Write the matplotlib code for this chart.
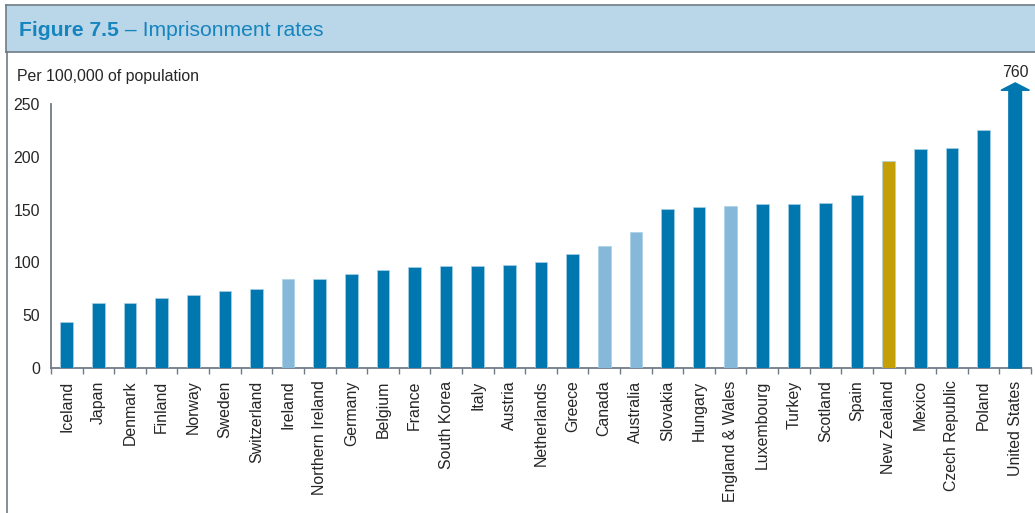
import matplotlib.pyplot as plt
from matplotlib.patches import Rectangle
from matplotlib.lines import Line2D

# data
countries = ['Iceland', 'Japan', 'Denmark', 'Finland', 'Norway', 'Sweden',
             'Switzerland', 'Ireland', 'Northern Ireland', 'Germany', 'Belgium',
             'France', 'South Korea', 'Italy', 'Austria', 'Netherlands', 'Greece',
             'Canada', 'Australia', 'Slovakia', 'Hungary', 'England & Wales',
             'Luxembourg', 'Turkey', 'Scotland', 'Spain', 'New Zealand', 'Mexico',
             'Czech Republic', 'Poland', 'United States']
rates = [44, 62, 62, 66, 69, 73, 75, 84, 84, 89, 93, 96, 97, 97, 98, 100, 108,
         116, 129, 151, 152, 153, 155, 155, 156, 164, 196, 207, 208, 225, 760]
# which group each bar belongs to
groups = ['oecd'] * 7 + ['anglo', 'oecd'] + ['oecd'] * 8 + ['anglo', 'anglo'] + \
         ['oecd', 'oecd', 'anglo'] + ['oecd'] * 4 + ['nz'] + ['oecd'] * 4

colours = {'oecd': '#0077ae', 'anglo': '#86b8d9', 'nz': '#c49f05'}
text_col = '#262626'
axis_col = '#6f7c88'
cap = 263  # values above this are drawn as an arrow

plt.rcParams['font.family'] = ['Liberation Sans', 'DejaVu Sans']

fig = plt.figure(figsize=(10.35, 5.13), dpi=100)
W, H = 1035, 513

# header band
fig.patches.append(Rectangle((6 / W, 1 - 52 / H), 1, 47 / H, transform=fig.transFigure,
                             facecolor='#bad7ea', edgecolor='none', zorder=0))
fig.add_artist(Line2D([6 / W, 1], [1 - 5 / H] * 2, color=axis_col, lw=1.2))
fig.add_artist(Line2D([6 / W, 1], [1 - 52 / H] * 2, color=axis_col, lw=1.2))
fig.add_artist(Line2D([7 / W] * 2, [1 - 52 / H, 0], color=axis_col, lw=1.2))
fig.add_artist(Line2D([6 / W] * 2, [1 - 52 / H, 1 - 5 / H], color=axis_col, lw=1.2))

t1 = fig.text(19 / W, 1 - 30 / H, 'Figure 7.5', fontsize=15.2, fontweight='bold',
              color='#1684bd', va='center', ha='left')
fig.canvas.draw()
bb = t1.get_window_extent()
fig.text(bb.x1 / W, 1 - 30 / H, ' \u2013 Imprisonment rates', fontsize=15.2,
         color='#1684bd', va='center', ha='left')

fig.text(17 / W, 1 - 76 / H, 'Per 100,000 of population', fontsize=11.4,
         color=text_col, va='center', ha='left')

ax = fig.add_axes([51 / W, 145 / H, 980 / W, 264 / H])
x = list(range(len(countries)))
shown = [min(v, cap) for v in rates]
cols = [colours[g] for g in groups]

for i, (v, c) in enumerate(zip(shown, cols)):
    if rates[i] > cap:
        ax.arrow(i, 0, 0, cap + 7, width=0.4, head_width=0.9, head_length=7,
                 length_includes_head=True, color=c, clip_on=False, zorder=3)
        ax.text(i, cap + 10, str(rates[i]), ha='center', va='bottom',
                fontsize=11.4, color=text_col, clip_on=False)
    else:
        ax.bar(i, v, width=0.4, color=c, edgecolor='#a9d0e8', linewidth=0.5,
               zorder=3)

ax.set_xlim(-0.5, len(countries) - 0.5)
ax.set_ylim(0, 250)
ax.set_yticks([0, 50, 100, 150, 200, 250])
ax.tick_params(axis='y', length=0, labelsize=11.4, labelcolor=text_col, pad=8)
ax.set_xticks(x)
ax.set_xticklabels(countries, rotation=90, fontsize=11.4, color=text_col)
ax.tick_params(axis='x', which='major', length=0, pad=9)
ax.set_xticks([i - 0.5 for i in range(len(countries) + 1)], minor=True)
ax.tick_params(axis='x', which='minor', length=4, color=axis_col, width=1)

for s in ['top', 'right']:
    ax.spines[s].set_visible(False)
for s in ['left', 'bottom']:
    ax.spines[s].set_color(axis_col)
    ax.spines[s].set_linewidth(1.3)

fig.savefig('out.png', dpi=100)
